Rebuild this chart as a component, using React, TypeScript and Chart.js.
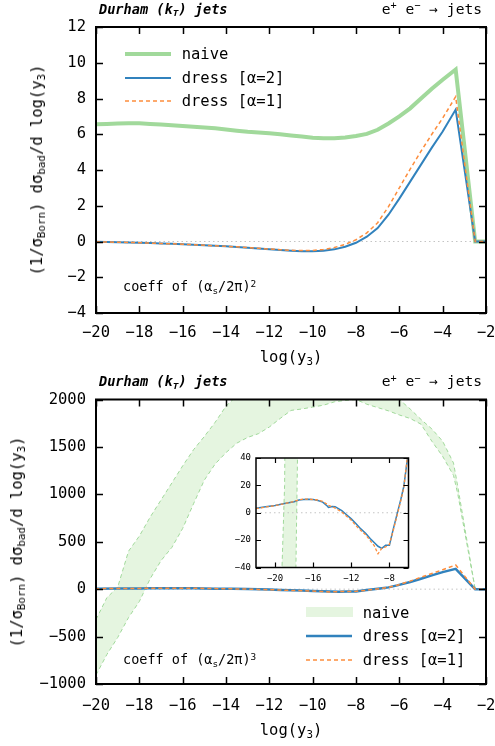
import React, { useEffect, useRef } from "react";
import { Chart, registerables } from "chart.js";

Chart.register(...registerables);

const FONT = "'DejaVu Sans Mono', monospace";

// ---------------- data ----------------
// top panel: coefficient of (as/2pi)^2
const TOP_X = [
  -20, -19.5, -19, -18.5, -18, -17.5, -17, -16.5, -16, -15.5,
  -15, -14.5, -14, -13.5, -13, -12.5, -12, -11.5, -11, -10.5,
  -10, -9.5, -9, -8.5, -8, -7.5, -7, -6.5, -6, -5.5,
  -5, -4.5, -4, -3.4, -2.5, -2,
];
const TOP_NAIVE = [
  6.56, 6.58, 6.6, 6.61, 6.61, 6.58, 6.54, 6.5, 6.46, 6.42,
  6.38, 6.33, 6.27, 6.2, 6.14, 6.1, 6.05, 6.0, 5.93, 5.87,
  5.8, 5.77, 5.78, 5.82, 5.9, 6.02, 6.25, 6.6, 7.0, 7.45,
  8.0, 8.55, 9.05, 9.62, 0, 0,
];
const TOP_DRESS2 = [
  -0.02, -0.03, -0.04, -0.06, -0.07, -0.09, -0.11, -0.13, -0.15, -0.18,
  -0.21, -0.24, -0.27, -0.31, -0.35, -0.39, -0.43, -0.48, -0.52, -0.55,
  -0.55, -0.52, -0.44, -0.29, -0.07, 0.27, 0.75, 1.5, 2.4, 3.35,
  4.3, 5.25, 6.15, 7.38, 0, 0,
];
const TOP_DRESS1 = [
  -0.02, -0.03, -0.04, -0.05, -0.07, -0.09, -0.11, -0.13, -0.15, -0.18,
  -0.21, -0.24, -0.27, -0.3, -0.34, -0.38, -0.42, -0.46, -0.49, -0.51,
  -0.5, -0.45, -0.34, -0.16, 0.1, 0.48, 1.05, 1.95, 3.0, 4.05,
  5.05, 6.0, 6.9, 8.1, 0, 0,
];

// bottom panel: coefficient of (as/2pi)^3
const BOT_NAIVE_X = [
  -20, -19.5, -19, -18.5, -18, -17.5, -17, -16.5, -16, -15.5,
  -15, -14.5, -14, -13.5, -13, -12.5, -12, -11.5, -11, -10.5,
  -10, -9.5, -9, -8.5, -8, -7.5, -7, -6.5, -6, -5.5,
  -5, -4.5, -4, -3.5, -3.3, -2.5, -2,
];
const BOT_NAIVE_HI = [
  -320, -90, 20, 400, 560, 760, 940, 1120, 1300, 1470,
  1610, 1760, 1930, 2040, 2150, 2230, 2300, 2350, 2400, 2430,
  2450, 2460, 2450, 2430, 2400, 2350, 2280, 2150, 2000, 1900,
  1790, 1690, 1560, 1330, 1080, 0, 0,
];
const BOT_NAIVE_LO = [
  -905, -690, -510, -300, -130, 110, 300, 440, 640, 900,
  1150, 1320, 1440, 1540, 1600, 1640, 1710, 1800, 1885, 1900,
  1920, 1940, 1975, 1990, 2000, 1950, 1915, 1880, 1837, 1800,
  1740, 1560, 1400, 1200, 1000, 0, 0,
];
const BOT_DRESS_X = [
  -22, -21, -20, -19, -18, -17.5, -17, -16.5, -16, -15.5,
  -15, -14.5, -14.4, -14, -13.7, -13, -12.5, -12, -11.5, -11,
  -10.5, -10, -9.6, -9.2, -8.8, -8.4, -8, -7.6, -7.2, -6.8,
  -6.5, -6.1, -5.5, -5, -4.5, -4, -3.4, -2.5, -2,
];
const BOT_DRESS2 = [
  3.2, 4.3, 5.3, 6.8, 8.0, 9.3, 9.7, 9.9, 9.7, 9.0,
  7.8, 4.8, 3.9, 4.6, 4.4, 1.5, -1.5, -4.5, -8.0, -11.8,
  -15.0, -19.0, -21.8, -24.5, -26.0, -23.7, -23.7, -12.0, -1.0, 10.0,
  19.0, 40.0, 75, 110, 145, 180, 215, 0, 0,
];
const BOT_DRESS1 = [
  3.0, 4.2, 5.2, 6.7, 8.2, 9.5, 10.0, 10.0, 9.6, 9.3,
  8.3, 6.0, 5.3, 4.5, 3.4, 0.5, -2.5, -5.5, -9.5, -13.0,
  -16.0, -20.5, -24.0, -30.0, -26.0, -25.0, -23.0, -13.0, -2.0, 9.0,
  18.0, 42.0, 85, 125, 165, 205, 255, 0, 0,
];

// ticks
const X_TICKS = [-20, -18, -16, -14, -12, -10, -8, -6, -4, -2];
const TOP_Y_TICKS = [-4, -2, 0, 2, 4, 6, 8, 10, 12];
const BOT_Y_TICKS = [-1000, -500, 0, 500, 1000, 1500, 2000];
const INSET_X_TICKS = [-20, -16, -12, -8];
const INSET_Y_TICKS = [-40, -20, 0, 20, 40];

const SERIES = ["naive", "dress [α=2]", "dress [α=1]"];

// ---------------- styles ----------------
const GREEN = "#a1d99b";
const BAND = "#e5f5e0";
const BLUE = "#3182bd";
const ORANGE = "#fd8d3c";

const fmt = (v: number) => (v < 0 ? "\u2212" + Math.abs(v) : String(v));
const pts = (xs: number[], ys: number[]) => xs.map((x, i) => ({ x, y: ys[i] }));

const framePlugin = {
  id: "frame",
  beforeDatasetsDraw(chart: any) {
    const { ctx, chartArea: a, scales } = chart;
    const y0 = scales.y.getPixelForValue(0);
    ctx.save();
    ctx.strokeStyle = "#c4c4c4";
    ctx.lineWidth = 1;
    ctx.setLineDash([1.5, 3]);
    ctx.beginPath();
    ctx.moveTo(a.left, y0);
    ctx.lineTo(a.right, y0);
    ctx.stroke();
    ctx.restore();
  },
  afterDatasetsDraw(chart: any, _a: any, opts: any) {
    const { ctx, chartArea: a, scales } = chart;
    const L = opts.tickLen;
    ctx.save();
    ctx.strokeStyle = "#000";
    ctx.setLineDash([]);
    ctx.lineWidth = opts.tickWidth;
    ctx.beginPath();
    for (const t of scales.x.ticks) {
      const px = Math.round(scales.x.getPixelForValue(t.value)) + 0.5;
      ctx.moveTo(px, a.bottom);
      ctx.lineTo(px, a.bottom - L);
      ctx.moveTo(px, a.top);
      ctx.lineTo(px, a.top + L);
    }
    for (const t of scales.y.ticks) {
      const py = Math.round(scales.y.getPixelForValue(t.value)) + 0.5;
      ctx.moveTo(a.left, py);
      ctx.lineTo(a.left + L, py);
      ctx.moveTo(a.right, py);
      ctx.lineTo(a.right - L, py);
    }
    ctx.stroke();
    ctx.lineWidth = opts.frameWidth;
    ctx.strokeRect(a.left, a.top, a.right - a.left, a.bottom - a.top);
    ctx.restore();
  },
};

function axes(o: {
  xMin: number; xMax: number; xTicks: number[];
  yMin: number; yMax: number; yTicks: number[];
  size: number; yWidth: number; xHeight: number; xPad: number; yPad: number;
}) {
  const font = { family: FONT, size: o.size };
  return {
    x: {
      type: "linear",
      min: o.xMin,
      max: o.xMax,
      afterBuildTicks: (s: any) => { s.ticks = o.xTicks.map((v) => ({ value: v })); },
      afterFit: (s: any) => { s.height = o.xHeight; s.paddingLeft = 0; s.paddingRight = 0; },
      grid: { display: false, drawTicks: false },
      border: { display: false },
      ticks: { autoSkip: false, maxRotation: 0, minRotation: 0, padding: o.xPad, color: "#000", font, callback: (v: any) => fmt(Number(v)) },
    },
    y: {
      type: "linear",
      min: o.yMin,
      max: o.yMax,
      afterBuildTicks: (s: any) => { s.ticks = o.yTicks.map((v) => ({ value: v })); },
      afterFit: (s: any) => { s.width = o.yWidth; s.paddingTop = 0; s.paddingBottom = 0; },
      grid: { display: false, drawTicks: false },
      border: { display: false },
      ticks: { autoSkip: false, padding: o.yPad, color: "#000", font, callback: (v: any) => fmt(Number(v)) },
    },
  };
}

const baseOpts = {
  responsive: false,
  animation: false,
  devicePixelRatio: 1,
  elements: { point: { radius: 0 }, line: { tension: 0, fill: false } },
};

function topConfig(): any {
  return {
    type: "line",
    data: {
      datasets: [
        { label: SERIES[2], data: pts(TOP_X, TOP_DRESS1), borderColor: ORANGE, borderWidth: 1.5, borderDash: [4, 3], order: 0 },
        { label: SERIES[1], data: pts(TOP_X, TOP_DRESS2), borderColor: BLUE, borderWidth: 2, order: 1 },
        { label: SERIES[0], data: pts(TOP_X, TOP_NAIVE), borderColor: GREEN, borderWidth: 4, order: 2 },
      ],
    },
    options: {
      ...baseOpts,
      layout: { padding: { left: 0, top: 27, right: 9, bottom: 0 } },
      scales: axes({ xMin: -20, xMax: -2, xTicks: X_TICKS, yMin: -4, yMax: 12, yTicks: TOP_Y_TICKS, size: 15.5, yWidth: 96, xHeight: 52, xPad: 11, yPad: 10 }),
      plugins: { legend: { display: false }, tooltip: { enabled: false }, frame: { tickLen: 7, tickWidth: 1.5, frameWidth: 2 } },
    },
    plugins: [framePlugin],
  };
}

function bandAndDress(lw: { band: number; blue: number; orange: number; dash: number[] }) {
  return [
    { label: SERIES[0] + " hi", data: pts(BOT_NAIVE_X, BOT_NAIVE_HI), borderColor: GREEN, borderWidth: lw.band, borderDash: [4, 3], fill: false, order: 3 },
    { label: SERIES[0], data: pts(BOT_NAIVE_X, BOT_NAIVE_LO), borderColor: GREEN, borderWidth: lw.band, borderDash: [4, 3], fill: "-1", backgroundColor: BAND, order: 2 },
    { label: SERIES[1], data: pts(BOT_DRESS_X, BOT_DRESS2), borderColor: BLUE, borderWidth: lw.blue, order: 1 },
    { label: SERIES[2], data: pts(BOT_DRESS_X, BOT_DRESS1), borderColor: ORANGE, borderWidth: lw.orange, borderDash: lw.dash, order: 0 },
  ];
}

function bottomConfig(): any {
  return {
    type: "line",
    data: { datasets: bandAndDress({ band: 1, blue: 2.5, orange: 1.5, dash: [4, 3] }) },
    options: {
      ...baseOpts,
      layout: { padding: { left: 0, top: 29.5, right: 9, bottom: 0 } },
      scales: axes({ xMin: -20, xMax: -2, xTicks: X_TICKS, yMin: -1000, yMax: 2000, yTicks: BOT_Y_TICKS, size: 15.5, yWidth: 96, xHeight: 62, xPad: 13, yPad: 10 }),
      plugins: { legend: { display: false }, tooltip: { enabled: false }, filler: { drawTime: "beforeDatasetsDraw" }, frame: { tickLen: 7, tickWidth: 1.5, frameWidth: 2 } },
    },
    plugins: [framePlugin],
  };
}

function insetConfig(): any {
  return {
    type: "line",
    data: { datasets: bandAndDress({ band: 1, blue: 1.5, orange: 1.3, dash: [3, 2] }) },
    options: {
      ...baseOpts,
      layout: { padding: { left: 0, top: 10, right: 6.5, bottom: 0 } },
      scales: axes({ xMin: -22, xMax: -6, xTicks: INSET_X_TICKS, yMin: -40, yMax: 40, yTicks: INSET_Y_TICKS, size: 9, yWidth: 31, xHeight: 22.5, xPad: 6, yPad: 5 }),
      plugins: { legend: { display: false }, tooltip: { enabled: false }, filler: { drawTime: "beforeDatasetsDraw" }, frame: { tickLen: 5, tickWidth: 1.2, frameWidth: 1.5 } },
    },
    plugins: [framePlugin],
  };
}

function ChartCanvas(props: { make: () => any; left: number; top: number; width: number; height: number }) {
  const ref = useRef<HTMLCanvasElement>(null);
  useEffect(() => {
    const c = new Chart(ref.current as HTMLCanvasElement, props.make());
    return () => c.destroy();
  }, []);
  return (
    <canvas
      ref={ref}
      width={props.width}
      height={props.height}
      style={{ position: "absolute", left: props.left, top: props.top, width: props.width, height: props.height }}
    />
  );
}

const Sub = ({ children }: any) => <span style={{ fontSize: "70%", position: "relative", top: "0.3em" }}>{children}</span>;
const Sup = ({ children }: any) => <span style={{ fontSize: "70%", position: "relative", top: "-0.45em" }}>{children}</span>;

function Txt(p: { x: number; cy: number; size: number; children: any; right?: boolean; style?: any }) {
  const lh = Math.round(p.size * 1.3);
  const pos: any = p.right ? { right: 495 - p.x } : { left: p.x };
  return (
    <div style={{ position: "absolute", ...pos, top: p.cy - lh / 2, height: lh, lineHeight: lh + "px", fontSize: p.size, whiteSpace: "nowrap", ...p.style }}>
      {p.children}
    </div>
  );
}

function CenterTxt(p: { cx: number; cy: number; size: number; rotate?: boolean; children: any }) {
  return (
    <div
      style={{
        position: "absolute", left: p.cx, top: p.cy, fontSize: p.size, lineHeight: "20px", whiteSpace: "nowrap",
        transform: "translate(-50%,-50%)" + (p.rotate ? " rotate(-90deg)" : ""),
      }}
    >
      {p.children}
    </div>
  );
}

function LineSample(p: { x: number; cy: number; color: string; width: number; dash?: string; box?: boolean }) {
  if (p.box) {
    return <div style={{ position: "absolute", left: p.x, top: p.cy - 5, width: 47, height: 10, background: p.color }} />;
  }
  return (
    <svg style={{ position: "absolute", left: p.x, top: p.cy - 5 }} width={47} height={10}>
      <line x1={0} y1={5} x2={46} y2={5} stroke={p.color} strokeWidth={p.width} strokeDasharray={p.dash} />
    </svg>
  );
}

function Titles(p: { cy: number }) {
  return (
    <>
      <Txt x={99} cy={p.cy} size={13.6} style={{ fontWeight: "bold", fontStyle: "italic" }}>
        Durham (k<Sub>T</Sub>) jets
      </Txt>
      <Txt x={482} cy={p.cy} size={14.6} right>
        e<Sup>+</Sup> e<Sup>−</Sup> → jets
      </Txt>
    </>
  );
}

const YLabel = () => (
  <>
    (1/σ<Sub>Born</Sub>) dσ<Sub>bad</Sub>/d log(y<Sub>3</Sub>)
  </>
);
const XLabel = () => (
  <>
    log(y<Sub>3</Sub>)
  </>
);

export default function App() {
  return (
    <div style={{ position: "absolute", left: 0, top: 0, width: 495, height: 746, background: "#fff", fontFamily: FONT, color: "#000", overflow: "hidden" }}>
      <ChartCanvas make={topConfig} left={0} top={0} width={495} height={365} />
      <ChartCanvas make={bottomConfig} left={0} top={370} width={495} height={376} />
      <ChartCanvas make={insetConfig} left={225} top={448} width={190} height={142} />

      <Titles cy={8.5} />
      <Titles cy={380.7} />

      <CenterTxt cx={37.5} cy={170} size={15.5} rotate><YLabel /></CenterTxt>
      <CenterTxt cx={18} cy={541.7} size={15.5} rotate><YLabel /></CenterTxt>
      <CenterTxt cx={291} cy={358} size={15.5}><XLabel /></CenterTxt>
      <CenterTxt cx={291} cy={731} size={15.5}><XLabel /></CenterTxt>

      <Txt x={123} cy={286} size={13.5}>coeff of (α<Sub>s</Sub>/2π)<Sup>2</Sup></Txt>
      <Txt x={123} cy={659} size={13.5}>coeff of (α<Sub>s</Sub>/2π)<Sup>3</Sup></Txt>

      {/* top legend */}
      <LineSample x={125} cy={54} color={GREEN} width={4} />
      <Txt x={181.7} cy={54} size={15.5}>{SERIES[0]}</Txt>
      <LineSample x={125} cy={78} color={BLUE} width={2} />
      <Txt x={181.7} cy={78} size={15.5}>{SERIES[1]}</Txt>
      <LineSample x={125} cy={101} color={ORANGE} width={1.5} dash="4 3" />
      <Txt x={181.7} cy={101} size={15.5}>{SERIES[2]}</Txt>

      {/* bottom legend */}
      <LineSample x={306} cy={611.7} color={BAND} width={10} box />
      <Txt x={362.7} cy={612.5} size={15.5}>{SERIES[0]}</Txt>
      <LineSample x={306} cy={635.5} color={BLUE} width={2.5} />
      <Txt x={362.7} cy={635.5} size={15.5}>{SERIES[1]}</Txt>
      <LineSample x={306} cy={659.5} color={ORANGE} width={1.5} dash="4 3" />
      <Txt x={362.7} cy={659.5} size={15.5}>{SERIES[2]}</Txt>
    </div>
  );
}
